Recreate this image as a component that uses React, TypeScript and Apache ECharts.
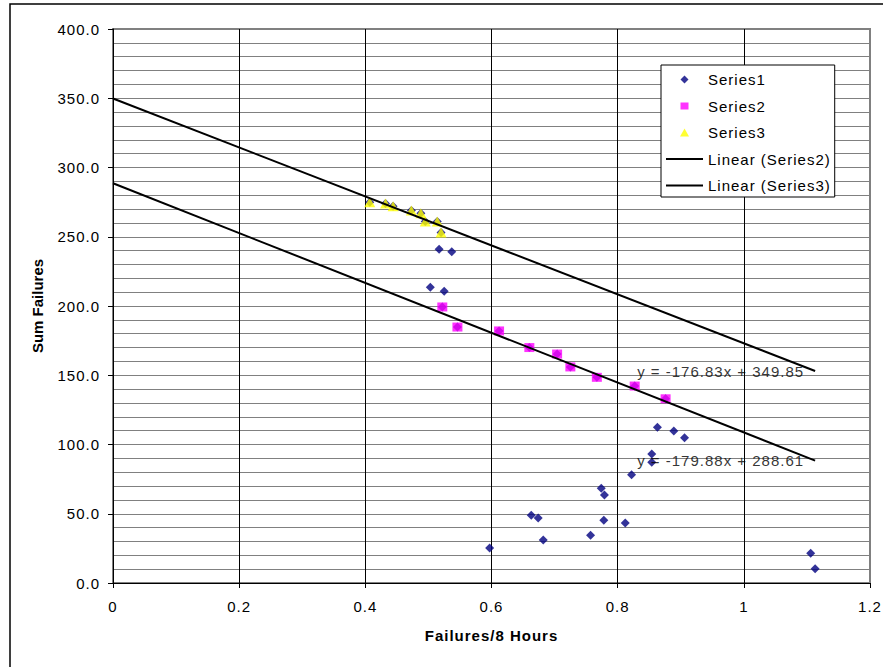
import { useEffect, useRef } from "react";
import * as echarts from "echarts";

// ---- data ----
const series1X = [0.517, 0.537, 0.503, 0.525, 0.597, 0.663, 0.674, 0.682, 0.757, 0.774, 0.779, 0.778, 0.812, 0.822, 0.854, 0.854, 0.863, 0.889, 0.906, 1.106, 1.113];
const series1Y = [241, 239.2, 213.5, 210.6, 25.3, 49, 47, 31, 34.4, 68.4, 63.5, 45.3, 43.3, 78.2, 93.1, 87.1, 112.4, 109.7, 104.9, 21.4, 10.3];

const series2X = [0.522, 0.546, 0.612, 0.660, 0.704, 0.725, 0.767, 0.827, 0.876];
const series2Y = [199.3, 184.8, 182, 170, 165.3, 156, 148.5, 142.2, 133];

const series3X = [0.407, 0.432, 0.444, 0.473, 0.488, 0.495, 0.514, 0.520];
const series3Y = [275, 274, 272, 269, 267, 261, 261, 253];

const trendNames = ["Linear (Series2)", "Linear (Series3)"];
const trendSlopes = [-179.88, -176.83];
const trendIntercepts = [288.61, 349.85];
const trendXRange = [0, 1.113];

const xAxisMin = 0;
const xAxisMax = 1.2;
const xAxisStep = 0.2;
const yAxisMin = 0;
const yAxisMax = 400;
const yAxisStep = 50;

const FONT = "'Liberation Sans', Arial, sans-serif";

const css = `
#chart-root svg text { letter-spacing: 1px; }
#chart-root svg text[transform^="matrix(0,"] { letter-spacing: 0px; }
`;

// legend icons: the two move-to points pin the 37x8 icon box so shapes keep their size
const BOX = "M0,0M37,8";
const ICON_DIAMOND = `path://${BOX}M18.5,0L22.5,4L18.5,8L14.5,4Z`;
const ICON_SQUARE = `path://${BOX}M14.5,0.5L22.5,0.5L22.5,7.5L14.5,7.5Z`;
const ICON_TRIANGLE = `path://${BOX}M18.5,0L23,8L14,8Z`;
const ICON_LINE = `path://${BOX}M0,3L37,3L37,5L0,5Z`;

export default function App() {
  const ref = useRef<HTMLDivElement>(null);

  useEffect(() => {
    if (!ref.current) return;
    const chart = echarts.init(ref.current, null, { renderer: "svg" });

    const zip = (xs: number[], ys: number[]) => xs.map((x, i) => [x, ys[i]]);
    // Series1 holds all the points; Series2/3 points sit on top of it
    const s1 = [...zip(series1X, series1Y), ...zip(series2X, series2Y), ...zip(series3X, series3Y)];
    const trendLines = trendSlopes.map((m, i) =>
      trendXRange.map((x) => [x, m * x + trendIntercepts[i]])
    );
    const eqTexts = trendSlopes.map(
      (m, i) => `y = ${m.toFixed(2)}x + ${trendIntercepts[i].toFixed(2)}`
    );
    const eqPoints = trendLines.map((l) => l[l.length - 1]);

    const option: any = {
      animation: false,
      backgroundColor: "#fff",
      textStyle: { fontFamily: FONT, color: "#000" },
      graphic: [
        {
          type: "polyline",
          shape: { points: [[10, 667], [10, 4], [883, 4]] },
          style: { stroke: "#000", lineWidth: 1.5, fill: null },
          silent: true,
        },
      ],
      grid: {
        left: 113,
        right: 17,
        top: 29,
        bottom: 84,
        show: true,
        borderColor: "#808080",
        borderWidth: 2,
        backgroundColor: "transparent",
      },
      legend: {
        orient: "vertical",
        left: 661,
        top: 65,
        padding: [7, 20, 4, 5],
        itemWidth: 37,
        itemHeight: 8,
        itemGap: 11.5,
        backgroundColor: "#fff",
        borderColor: "#000",
        borderWidth: 1,
        textStyle: { fontSize: 15, color: "#000", fontFamily: FONT },
        data: [
          { name: "Series1", icon: ICON_DIAMOND },
          { name: "Series2", icon: ICON_SQUARE },
          { name: "Series3", icon: ICON_TRIANGLE },
          { name: trendNames[0], icon: ICON_LINE, itemStyle: { color: "#000" } },
          { name: trendNames[1], icon: ICON_LINE, itemStyle: { color: "#000" } },
        ],
      },
      xAxis: {
        type: "value",
        min: xAxisMin,
        max: xAxisMax,
        interval: xAxisStep,
        name: "Failures/8 Hours",
        nameLocation: "middle",
        nameGap: 45,
        nameTextStyle: { fontSize: 15, fontWeight: "bold", color: "#000", fontFamily: FONT },
        axisLine: { show: true, onZero: false, lineStyle: { color: "#000", width: 1 } },
        axisTick: { show: true, inside: false, length: 5, lineStyle: { color: "#000" } },
        axisLabel: { fontSize: 15, color: "#000", margin: 16, fontFamily: FONT },
        splitLine: {
          show: true,
          lineStyle: { color: ["#000", "#000", "#000", "#000", "#000", "#000", "#808080"], width: 1 },
        },
      },
      yAxis: {
        type: "value",
        min: yAxisMin,
        max: yAxisMax,
        interval: yAxisStep,
        name: "Sum Failures",
        nameLocation: "middle",
        nameGap: 68,
        nameTextStyle: { fontSize: 15, fontWeight: "bold", color: "#000", fontFamily: FONT },
        axisLine: { show: true, onZero: false, lineStyle: { color: "#000", width: 1 } },
        axisTick: { show: true, inside: false, length: 5, lineStyle: { color: "#000" } },
        axisLabel: {
          fontSize: 15,
          color: "#000",
          margin: 13,
          fontFamily: FONT,
          formatter: (v: number) => v.toFixed(1),
        },
        splitLine: { show: true, lineStyle: { color: "#808080", width: 1 } },
        minorTick: { show: false, splitNumber: 5 },
        minorSplitLine: { show: true, lineStyle: { color: "#808080", width: 1 } },
      },
      series: [
        {
          name: "Series1",
          type: "scatter",
          symbol: "diamond",
          symbolSize: 9,
          itemStyle: { color: "#000080" },
          data: s1,
        },
        {
          name: "Series2",
          type: "scatter",
          symbol: "rect",
          symbolSize: [10, 9],
          itemStyle: { color: "#FF00FF" },
          data: zip(series2X, series2Y),
        },
        {
          name: "Series3",
          type: "scatter",
          symbol: "triangle",
          symbolSize: [11, 10],
          itemStyle: { color: "#FFFF00" },
          data: zip(series3X, series3Y),
        },
        ...trendLines.map((pts, i) => ({
          name: trendNames[i],
          type: "line",
          symbol: "none",
          color: "#000",
          lineStyle: { color: "#000", width: 2 },
          data: pts,
          z: 3,
        })),
        {
          name: "equations",
          type: "scatter",
          symbolSize: 0,
          silent: true,
          z: 4,
          data: eqPoints,
          label: {
            show: true,
            position: "left",
            distance: 11,
            fontSize: 15,
            color: "#000",
            fontFamily: FONT,
            formatter: (p: any) => eqTexts[p.dataIndex],
          },
        },
      ],
    };

    chart.setOption(option);
    return () => chart.dispose();
  }, []);

  return (
    <>
      <style>{css}</style>
      <div
        id="chart-root"
        ref={ref}
        style={{ position: "fixed", left: 0, top: 0, width: 887, height: 667, background: "#fff" }}
      />
    </>
  );
}
